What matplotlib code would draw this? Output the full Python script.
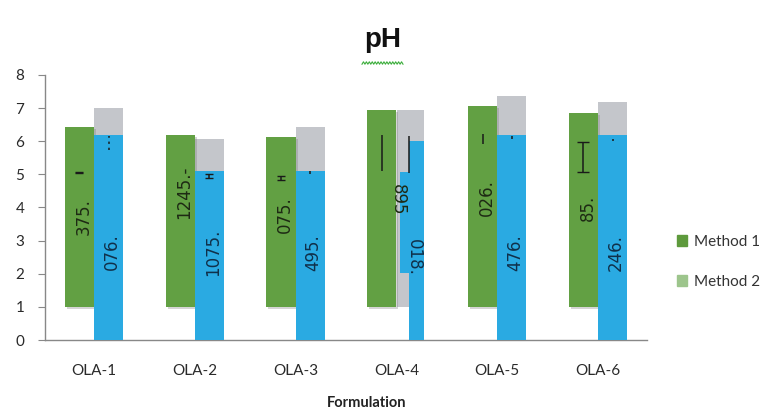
import numpy as np
import matplotlib
matplotlib.use("Agg")
import matplotlib.pyplot as plt
from matplotlib.patches import Patch
import matplotlib.patheffects as pe

plt.rcParams["font.family"] = ["Lato", "DejaVu Sans"]

# ---- data ----
formulations = ["OLA-1", "OLA-2", "OLA-3", "OLA-4", "OLA-5", "OLA-6"]
base = 1.0
method1_top = [6.42, 6.18, 6.12, 6.94, 7.06, 6.85]
method2_top = [7.00, 6.06, 6.42, 6.94, 7.36, 7.18]
blue_top = [6.18, 5.09, 5.09, 6.00, 6.18, 6.18]
green_labels = ["375.", "1245.-", "075.", "895", "026.", "85."]
blue_labels = ["076.", "1075.", "495.", "018.", "476.", "246."]
# error bars (centre, half-length)
green_err_mid = [5.05, None, 4.9, 5.65, 6.06, 5.52]
green_err = [0.02, None, 0.06, 0.55, 0.15, 0.45]
blue_err_mid = [5.95, 4.95, 5.05, 5.60, 6.12, 6.05]
blue_err = [0.22, 0.06, 0.05, 0.55, 0.05, 0.03]
# secondary blue segment on OLA-4
ola4_seg = (2.03, 5.06)

c_green = "#62a043"
c_gray = "#c4c6cb"
c_blue = "#2aaae2"
c_leg1 = "#5e9a3c"
c_leg2 = "#9dc58c"

fig = plt.figure(figsize=(7.76, 4.11), dpi=100)
ax = fig.add_axes([45 / 776, 1 - 340 / 411, 602 / 776, 265 / 411])

x = np.arange(len(formulations))
w = 0.29
gx = x - 0.145
bx = x + 0.145

shadow = [pe.SimplePatchShadow(offset=(1.5, -1.5), shadow_rgbFace="#777777", alpha=0.3), pe.Normal()]

# Method 1 (floating green bars)
bars1 = ax.bar(gx, np.array(method1_top) - base, bottom=base, width=w, color=c_green, zorder=2)
for b in bars1:
    b.set_path_effects(shadow)

# Method 2 (floating grey bars)
gray_x = bx.copy()
gray_w = np.full(len(x), w)
gray_x[3] = x[3] + 0.14
gray_w[3] = 0.268
ax.bar(gray_x, np.array(method2_top) - base, bottom=base, width=gray_w, color=c_gray, zorder=1)

# blue overlay bars
blue_x = bx.copy()
blue_w = np.full(len(x), w)
blue_x[3] = x[3] + 0.2
blue_w[3] = 0.149
ax.bar(blue_x, blue_top, width=blue_w, color=c_blue, zorder=3)
ax.bar(x[3] + 0.08, ola4_seg[1] - ola4_seg[0], bottom=ola4_seg[0], width=0.09,
       color=c_blue, zorder=3)

# error bars
g_caps = [3, 0, 3, 0, 0, 4]
b_caps = [0, 3, 0, 0, 0, 0]
for i in range(len(x)):
    if green_err_mid[i] is not None:
        ax.errorbar(gx[i], green_err_mid[i], yerr=green_err[i],
                    fmt="none", ecolor="#1a1a1a", elinewidth=1.1,
                    capsize=g_caps[i], zorder=5)
    eb = ax.errorbar(bx[i] + (0.0 if i != 3 else -0.02), blue_err_mid[i], yerr=blue_err[i],
                     fmt="none", ecolor="#1a1a1a", elinewidth=1.1,
                     capsize=b_caps[i], zorder=5)
    if i == 0:
        eb[2][0].set_linestyle((0, (1.5, 2.5)))

# value labels inside bars
g_label_y = [3.73, 4.45, 3.79, 4.24, 4.3, 4.0]
b_label_y = [2.67, 2.64, 2.64, 2.5, 2.64, 2.64]
for i in range(len(x)):
    ax.text(gx[i] + 0.04 if i != 3 else x[3] + 0.01, g_label_y[i], green_labels[i],
            rotation=90 if i != 3 else 270, ha="center", va="center",
            fontsize=12, family="DejaVu Sans", color="#1e2a14", zorder=6)
    ax.text(bx[i] + 0.035 if i != 3 else x[3] + 0.17, b_label_y[i], blue_labels[i],
            rotation=90 if i != 3 else 270, ha="center", va="center",
            fontsize=12, family="DejaVu Sans", color="#10304a", zorder=6)

ax.set_xlim(-0.486, 5.486)
ax.set_ylim(0, 8)
ax.set_yticks(range(0, 9))
ax.set_xticks(x)
ax.set_xticklabels(formulations)
ax.tick_params(axis="y", direction="out", length=5, color="#888888", labelsize=11,
               labelcolor="#2a2a2a", pad=10)
ax.tick_params(axis="x", length=0, labelsize=11, labelcolor="#2a2a2a", pad=17)
for s in ("top", "right"):
    ax.spines[s].set_visible(False)
for s in ("left", "bottom"):
    ax.spines[s].set_color("#888888")
    ax.spines[s].set_linewidth(1.0)

# title and axis label
fig.text(383 / 776, 1 - 40 / 411, "pH", ha="center", va="center", fontsize=20,
         fontweight="bold", family=["Liberation Sans Narrow", "Liberation Sans"],
         color="#111111")
sx = np.linspace(362, 403, 29)
sy = 63 + 1.2 * np.where(np.arange(len(sx)) % 2 == 0, 1, -1)
fig.add_artist(plt.Line2D(sx / 776, 1 - sy / 411, color="#3cae3c", lw=0.8))
fig.text(367 / 776, 1 - 403 / 411, "Formulation", ha="center", va="center",
         fontsize=10.5, fontweight="bold", color="#222222")

# legend
handles = [Patch(color=c_leg1, label="Method 1"), Patch(color=c_leg2, label="Method 2")]
fig.legend(handles=handles, loc="center left", bbox_to_anchor=(663 / 776, 1 - 262 / 411),
           frameon=False, fontsize=11, handlelength=0.7, handleheight=0.7,
           handletextpad=0.4, labelspacing=1.7, labelcolor="#333333")

fig.savefig("out.png", dpi=100)
